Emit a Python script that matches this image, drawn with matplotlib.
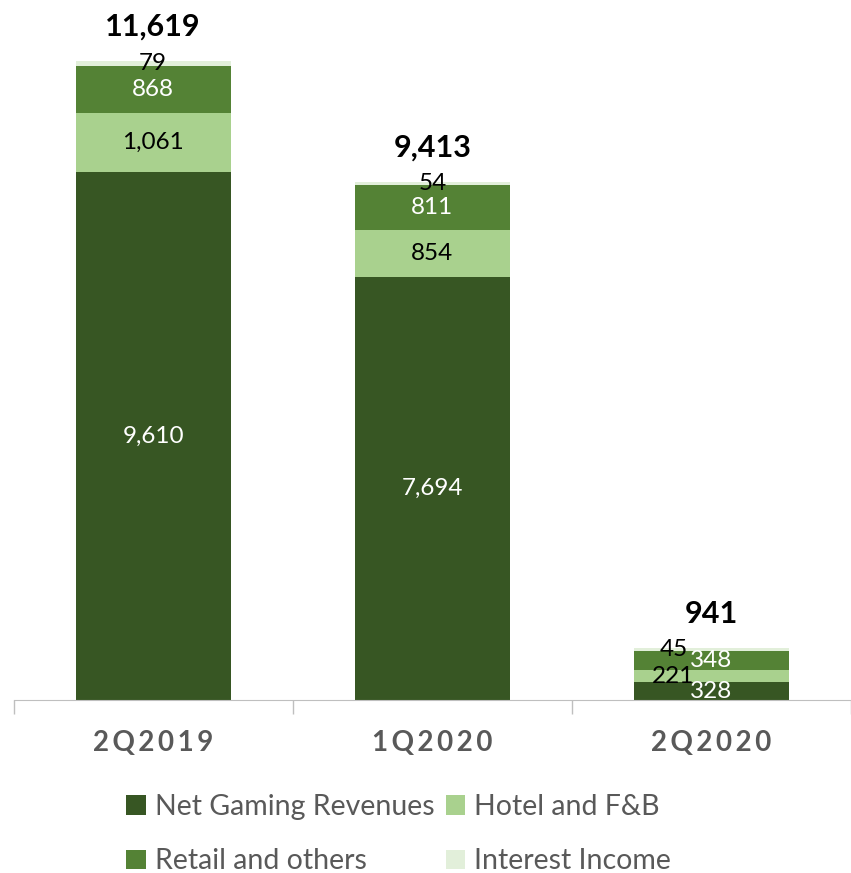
import matplotlib
matplotlib.use("Agg")
from matplotlib import pyplot as plt
import numpy as np

plt.rcParams['font.family'] = ['Lato', 'DejaVu Sans']

quarters = ["2Q2019", "1Q2020", "2Q2020"]
net_gaming = [9610, 7694, 328]
hotel_fb = [1061, 854, 221]
retail = [868, 811, 348]
interest = [79, 54, 45]
totals = [11619, 9413, 941]

series = [
    ("Net Gaming Revenues", net_gaming, "#375623", "white"),
    ("Hotel and F&B", hotel_fb, "#A9D18E", "black"),
    ("Retail and others", retail, "#548235", "white"),
    ("Interest Income", interest, "#E2EFDA", "black"),
]

# labels on the small bar get pushed sideways so they don't collide
label_shift = {(2, 1): -38, (2, 3): -38}

fig = plt.figure(figsize=(8.51, 8.73), dpi=100)
ax = fig.add_axes([0.016, 0.198, 0.984, 0.802])

x = np.arange(len(quarters))
bottom = np.zeros(len(quarters))
handles = []
for si, (name, vals, color, tcolor) in enumerate(series):
    vals = np.array(vals, dtype=float)
    b = ax.bar(x, vals, 0.555, bottom=bottom, color=color, label=name)
    handles.append(b)
    for i, v in enumerate(vals):
        dx = label_shift.get((i, si), 0)
        ax.annotate(f"{int(v):,}", (x[i], bottom[i] + v / 2), xytext=(dx * 0.72, 0),
                    textcoords="offset points", ha="center", va="center",
                    fontsize=17.5, color=tcolor)
    bottom += vals

for i, t in enumerate(totals):
    ax.annotate(f"{t:,}", (x[i], bottom[i]), xytext=(0, 15), textcoords="offset points",
                ha="center", va="bottom", fontsize=22, fontweight="bold", color="black")

ax.set_xlim(-0.5, 2.5)
ax.set_ylim(0, 12730)
ax.set_xticks([-0.5, 0.5, 1.5, 2.5])
ax.set_xticklabels([])
ax.tick_params(axis="x", length=10, color="#BFBFBF", width=1)
ax.set_yticks([])
for s in ["left", "right", "top"]:
    ax.spines[s].set_visible(False)
ax.spines["bottom"].set_color("#BFBFBF")

for i, q in enumerate(quarters):
    ax.annotate("\u2009".join(q), (x[i], 0), xytext=(0, -31), textcoords="offset points",
                ha="center", va="center", fontsize=20, fontweight="bold", color="#595959")

fig.legend(handles=[handles[0], handles[2], handles[1], handles[3]],
           labels=["Net Gaming Revenues", "Retail and others", "Hotel and F&B", "Interest Income"],
           ncol=2, loc="lower left", bbox_to_anchor=(0.118, -0.031), frameon=False,
           fontsize=20.5, labelcolor="#595959", handlelength=0.7, handleheight=0.7,
           handletextpad=0.3, columnspacing=0.4, labelspacing=1.0)

fig.savefig("out.png", dpi=100)
